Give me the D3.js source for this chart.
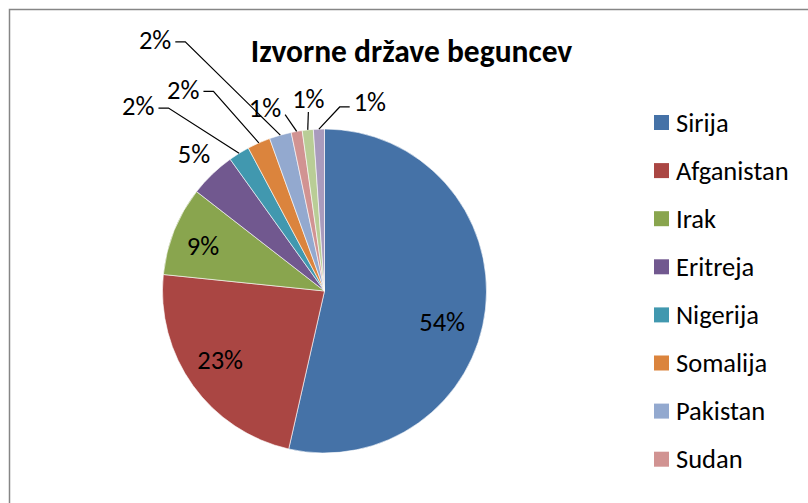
<!DOCTYPE html>
<html>
<head>
<meta charset="utf-8">
<script src="https://cdn.jsdelivr.net/npm/d3@7"></script>
<style>
  body { margin: 0; background: #fff; }
  text { font-family: Carlito, Calibri, Lato, sans-serif; fill: #000; }
</style>
</head>
<body>
<svg id="chart"></svg>
<script>
// data (share of refugees, %)
var countries = ['Sirija', 'Afganistan', 'Irak', 'Eritreja', 'Nigerija', 'Somalija', 'Pakistan', 'Sudan', 'Iran', 'Gambija'];
var shares = [53.6, 23.1, 8.9, 4.6, 2.1, 2.3, 2.2, 1.1, 1.1, 1.1];
var colors = ['#4572A7', '#AA4643', '#89A54E', '#71588F', '#4198AF', '#DB843D', '#93A9CF', '#D19392', '#B9CD96', '#A99BBD'];

// where Excel put each data label: angle (deg, clockwise from 12 o'clock), distance in radii, leader line
var labelAngle = [104.5, 236.8, 290.4, 316.5, 314.8, 325, 326, 342, 355.2, 13.5];
var labelDist  = [0.75, 0.77, 0.80, 1.17, 1.62, 1.52, 1.87, 1.19, 1.19, 1.20];
var labelLeader = [false, false, false, false, true, true, true, true, true, true];

var W = 808, H = 503;
var cx = 324.5, cy = 291, radius = 162;

var svg = d3.select('#chart').attr('width', W).attr('height', H);

// chart area border (right and bottom edges fall outside the picture)
svg.append('rect')
    .attr('x', 9.5).attr('y', 9.5)
    .attr('width', W + 20).attr('height', H + 20)
    .attr('fill', '#fff')
    .attr('stroke', '#868686')
    .attr('stroke-width', 1.5);

// Title
svg.append('text')
    .attr('x', 411.5)
    .attr('y', 61.5)
    .attr('text-anchor', 'middle')
    .style('font-size', '31.5px')
    .style('font-weight', 'bold')
    .text('Izvorne države beguncev');

var pie = d3.pie().sort(null).value(d => d);
var arc = d3.arc().innerRadius(0).outerRadius(radius);
var arcs = pie(shares);
var total = d3.sum(shares);
var pct = d3.format('.0%');

var g = svg.append('g').attr('transform', 'translate(' + cx + ',' + cy + ')');

g.selectAll('.slice')
    .data(arcs)
    .enter().append('path')
    .attr('class', 'slice')
    .attr('d', arc)
    .attr('fill', (d, i) => colors[i])
    .attr('stroke', '#fff')
    .attr('stroke-width', 0.6);

// Data labels
var rad = a => a * Math.PI / 180;
var labels = g.selectAll('.label')
    .data(arcs)
    .enter().append('text')
    .attr('class', 'label')
    .attr('x', (d, i) => radius * labelDist[i] * Math.sin(rad(labelAngle[i])))
    .attr('y', (d, i) => -radius * labelDist[i] * Math.cos(rad(labelAngle[i])))
    .attr('dy', '0.35em')
    .attr('text-anchor', 'middle')
    .style('font-size', '26.5px')
    .text(d => pct(d.value / total));

// Leader lines
labels.each(function(d, i) {
    if (!labelLeader[i]) return;
    var lx = +this.getAttribute('x'), ly = +this.getAttribute('y');
    var w = this.getComputedTextLength() / 2;
    var mid = (d.startAngle + d.endAngle) / 2;
    var px = radius * Math.sin(mid), py = -radius * Math.cos(mid);
    var pts;
    if (Math.abs(px - lx) < w) {
        pts = [[lx, ly + 13], [px, py]];
    } else if (px > lx) {
        var ax = lx + w + 4;
        pts = (px - ax > 20) ? [[ax, ly + 2], [ax + 10, ly + 2], [px, py]]
                             : [[ax, ly + 7], [px, py]];
    } else {
        var bx = lx - w - 4;
        pts = (bx - px > 20) ? [[bx, ly + 5], [bx - 10, ly + 5], [px, py]]
                             : [[bx, ly + 7], [px, py]];
    }
    g.append('path')
        .attr('d', d3.line()(pts))
        .attr('fill', 'none')
        .attr('stroke', '#000')
        .attr('stroke-width', 1.2);
});

// Legend (entries that do not fit are dropped, as in the original)
var legendTop = 115, rowH = 48.1;
var fits = countries.filter((c, i) => legendTop + i * rowH + rowH <= H);
var legend = svg.selectAll('.legend')
    .data(fits)
    .enter().append('g')
    .attr('class', 'legend')
    .attr('transform', (d, i) => 'translate(654,' + (legendTop + i * rowH) + ')');

legend.append('rect')
    .attr('width', 15)
    .attr('height', 15)
    .attr('fill', (d, i) => colors[i]);

legend.append('text')
    .attr('x', 22)
    .attr('y', 7.5)
    .attr('dy', '0.35em')
    .style('font-size', '26.5px')
    .text(d => d);
</script>
</body>
</html>
